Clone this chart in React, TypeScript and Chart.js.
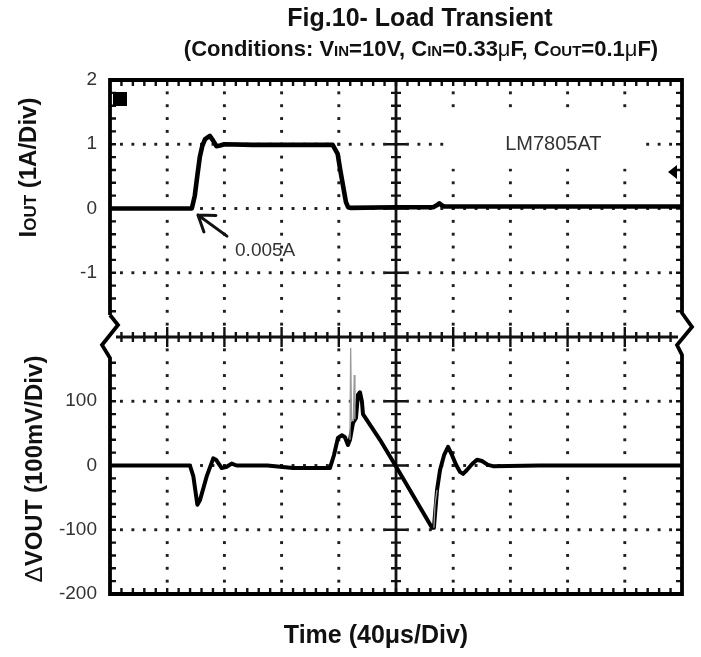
import React, { useEffect, useRef } from 'react';
import { Chart, registerables } from 'chart.js';

Chart.register(...registerables);

// ---------- text ----------
const titleLine1 = 'Fig.10- Load Transient';
const xAxisTitle = 'Time (40μs/Div)';
const modelLabel = 'LM7805AT';
const currentNote = '0.005A';

// ---------- axes ----------
const timeMin = 0;
const timeMax = 400; // µs, 10 divisions of 40 µs
const usPerDiv = 40;
const ampMin = -6;
const ampMax = 2; // 1 A / div, upper half of screen
const mvMin = -200;
const mvMax = 600; // 100 mV / div, lower half of screen
// left tick labels from bottom grid line (0) to top grid line (8)
const gridTickLabels = ['-200', '-100', '0', '100', '', '-1', '0', '1', '2'];

// ---------- IOUT trace (µs, A) ----------
const iTime = [0, 57.2, 59.3, 61, 62.8, 64.5, 66.5, 69.8, 72, 74.5, 77, 80, 100, 130, 155.7, 159.2, 161, 163, 165, 166.5, 168, 200, 226, 228.5, 230.3, 232, 234, 300, 400];
const iAmps = [0, 0, 0.2, 0.5, 0.8, 0.97, 1.08, 1.13, 1.06, 0.97, 0.98, 1.0, 0.99, 0.99, 0.99, 0.85, 0.6, 0.35, 0.1, 0.02, 0.01, 0.02, 0.02, 0.05, 0.08, 0.05, 0.03, 0.03, 0.03];

// ---------- ΔVOUT trace (µs, mV) ----------
const vTime = [0, 55.9, 58.3, 61.1, 62.9, 67.6, 72.2, 74.1, 78.1, 81.6, 85.1, 88.6, 110, 128, 153.8, 156.6, 159.4, 162.2, 164.3, 166.4, 167.8, 169.9, 172, 173.4, 174.8, 176.2, 176.9, 188.8, 197.2, 202.8, 225.2, 226.5, 228.7, 230.8, 233.6, 236.4, 239.2, 242, 244.8, 246.9, 249.6, 253.1, 256.6, 260.1, 264.3, 267.8, 300, 400];
const vMilli = [0, 0, -17, -61, -54, -17, 11, 9, -4, -2, 3, 0, 0, -4, -4, 16, 43, 47, 44, 32, 40, 66, 74, 110, 114, 99, 80, 40, 9, -12, -97, -97, -38, -7, 16, 29, 16, 1, -10, -13, -7, 2, 9, 7, 1, -1, 0, 0];

// thin, faint overshoot spike on ΔVOUT (µs, mV)
const spikeTime = [167.8, 168.3, 168.9, 170.2, 170.8, 171.3];
const spikeMilli = [40, 183, 70, 70, 141, 72];
// faint fast recovery edge (µs, mV)
const edgeTime = [226.5, 227.3, 228.7];
const edgeMilli = [-97, -60, -38];

// annotation anchors (data units)
const modelLabelAt = { t: 310, a: 1.0 };
const modelBox = { t0: 236, t1: 370, a0: 0.62, a1: 1.52 };
const noteAt = { t: 108.5, a: -0.66 };
const arrowTip = { t: 61.5, a: -0.1 };
const arrowTail = { t: 81.8, a: -0.43 };

const FAMILY = "Arial, 'Liberation Sans', Helvetica, sans-serif";

type Seg = { t: string; size: number; bold?: boolean };

function drawRich(ctx: CanvasRenderingContext2D, segs: Seg[], x: number, y: number, rotate: boolean) {
  const fontOf = (s: Seg) => `${s.bold === false ? 'normal' : 'bold'} ${s.size}px ${FAMILY}`;
  let total = 0;
  const widths = segs.map((s) => {
    ctx.font = fontOf(s);
    const w = ctx.measureText(s.t).width;
    total += w;
    return w;
  });
  ctx.save();
  ctx.translate(x, y);
  if (rotate) ctx.rotate(-Math.PI / 2);
  ctx.textAlign = 'left';
  ctx.textBaseline = 'alphabetic';
  ctx.fillStyle = '#111';
  let cx = -total / 2;
  segs.forEach((s, i) => {
    ctx.font = fontOf(s);
    ctx.fillText(s.t, cx, 0);
    cx += widths[i];
  });
  ctx.restore();
}

const scopePlugin = {
  id: 'scopeScreen',
  beforeDatasetsDraw(chart: any) {
    const { ctx, chartArea: ca, scales } = chart;
    const xs = scales.x;
    const yg = scales.y;
    const yI = scales.yI;
    const X = (k: number) => xs.getPixelForValue(k * usPerDiv);
    const Y = (j: number) => yg.getPixelForValue(j);
    ctx.save();
    // dotted graticule
    ctx.fillStyle = '#1e1e1e';
    const d = 2.9;
    for (let k = 1; k < 10; k++) {
      if (k === 5) continue;
      const x = X(k);
      for (let n = 1; n < 40; n++) {
        const y = Y(n / 5);
        ctx.fillRect(x - d / 2, y - d / 2, d, d);
      }
    }
    for (let j = 1; j < 8; j++) {
      if (j === 4) continue;
      const y = Y(j);
      for (let m = 1; m < 50; m++) {
        const x = X(m / 5);
        ctx.fillRect(x - d / 2, y - d / 2, d, d);
      }
    }
    // centre cross with minor ticks
    ctx.strokeStyle = '#111';
    ctx.lineWidth = 2.8;
    const xc = X(5);
    const yc = Y(4);
    ctx.beginPath();
    ctx.moveTo(ca.left + 6, yc);
    ctx.lineTo(ca.right - 4, yc);
    ctx.moveTo(xc, ca.top);
    ctx.lineTo(xc, ca.bottom);
    ctx.stroke();
    ctx.lineWidth = 2.4;
    ctx.beginPath();
    for (let m = 1; m < 50; m++) {
      const x = X(m / 5);
      const L = m % 5 === 0 ? 10 : 5;
      ctx.moveTo(x, yc - L);
      ctx.lineTo(x, yc + L);
    }
    for (let n = 1; n < 40; n++) {
      const y = Y(n / 5);
      const L = n % 5 === 0 ? 10 : 5;
      ctx.moveTo(xc - L, y);
      ctx.lineTo(xc + L, y);
    }
    // minor ticks along the frame
    for (let m = 1; m < 50; m++) {
      const x = X(m / 5);
      ctx.moveTo(x, ca.top);
      ctx.lineTo(x, ca.top + 6);
      ctx.moveTo(x, ca.bottom);
      ctx.lineTo(x, ca.bottom - 6);
    }
    for (let n = 1; n < 40; n++) {
      if (n >= 19 && n <= 21) continue;
      const y = Y(n / 5);
      ctx.moveTo(ca.left, y);
      ctx.lineTo(ca.left + 6, y);
      ctx.moveTo(ca.right, y);
      ctx.lineTo(ca.right - 6, y);
    }
    ctx.stroke();

    // model label with cleared background
    const bx0 = xs.getPixelForValue(modelBox.t0);
    const bx1 = xs.getPixelForValue(modelBox.t1);
    const by0 = yI.getPixelForValue(modelBox.a1);
    const by1 = yI.getPixelForValue(modelBox.a0);
    ctx.fillStyle = '#fff';
    ctx.fillRect(bx0, by0, bx1 - bx0, by1 - by0);
    ctx.fillStyle = '#333';
    ctx.font = `normal 20px ${FAMILY}`;
    ctx.textAlign = 'center';
    ctx.textBaseline = 'middle';
    ctx.fillText(modelLabel, xs.getPixelForValue(modelLabelAt.t), yI.getPixelForValue(modelLabelAt.a));

    // 0.005A note + arrow
    ctx.font = `normal 19px ${FAMILY}`;
    ctx.fillText(currentNote, xs.getPixelForValue(noteAt.t), yI.getPixelForValue(noteAt.a));
    const tx = xs.getPixelForValue(arrowTip.t);
    const ty = yI.getPixelForValue(arrowTip.a);
    const sx = xs.getPixelForValue(arrowTail.t);
    const sy = yI.getPixelForValue(arrowTail.a);
    const ang = Math.atan2(sy - ty, sx - tx);
    const arm = 18;
    const spread = 0.6;
    ctx.strokeStyle = '#111';
    ctx.lineWidth = 3;
    ctx.lineCap = 'round';
    ctx.lineJoin = 'round';
    ctx.beginPath();
    ctx.moveTo(sx, sy);
    ctx.lineTo(tx, ty);
    ctx.moveTo(tx + arm * Math.cos(ang - spread), ty + arm * Math.sin(ang - spread));
    ctx.lineTo(tx, ty);
    ctx.lineTo(tx + arm * Math.cos(ang + spread), ty + arm * Math.sin(ang + spread));
    ctx.stroke();
    ctx.restore();
  },
  afterDatasetsDraw(chart: any) {
    const { ctx, chartArea: ca, scales } = chart;
    const yc = scales.y.getPixelForValue(4);
    ctx.save();
    ctx.strokeStyle = '#000';
    ctx.lineWidth = 3.8;
    ctx.lineJoin = 'miter';
    ctx.lineCap = 'butt';
    // frame with break marks on both sides
    ctx.beginPath();
    ctx.moveTo(ca.left, yc - 22);
    ctx.lineTo(ca.left, ca.top);
    ctx.lineTo(ca.right, ca.top);
    ctx.lineTo(ca.right, yc - 24);
    ctx.lineTo(ca.right + 10, yc - 10);
    ctx.lineTo(ca.right - 5, yc + 8);
    ctx.lineTo(ca.right, yc + 18);
    ctx.lineTo(ca.right, ca.bottom);
    ctx.lineTo(ca.left, ca.bottom);
    ctx.lineTo(ca.left, yc + 21);
    ctx.lineTo(ca.left - 8, yc + 8);
    ctx.lineTo(ca.left + 8, yc - 12);
    ctx.lineTo(ca.left, yc - 22);
    ctx.stroke();
    // channel marker and trigger marker
    ctx.fillStyle = '#000';
    ctx.fillRect(ca.left + 3, ca.top + 12, 14, 14);
    const ty = scales.yI.getPixelForValue(0.57);
    ctx.beginPath();
    ctx.moveTo(ca.right - 14, ty);
    ctx.lineTo(ca.right - 5, ty - 7);
    ctx.lineTo(ca.right - 5, ty + 7);
    ctx.closePath();
    ctx.fill();
    ctx.restore();
  },
  afterDraw(chart: any) {
    const { ctx } = chart;
    drawRich(ctx, [{ t: titleLine1, size: 25 }], 420, 26, false);
    drawRich(
      ctx,
      [
        { t: '(Conditions: V', size: 22 },
        { t: 'IN', size: 15 },
        { t: '=10V, C', size: 22 },
        { t: 'IN', size: 15 },
        { t: '=0.33', size: 22 },
        { t: 'μ', size: 22, bold: false },
        { t: 'F, C', size: 22 },
        { t: 'OUT', size: 15 },
        { t: '=0.1', size: 22 },
        { t: 'μ', size: 22, bold: false },
        { t: 'F)', size: 22 },
      ],
      421,
      56,
      false
    );
    drawRich(ctx, [{ t: xAxisTitle, size: 25 }], 376, 643, false);
    drawRich(
      ctx,
      [
        { t: 'I', size: 24 },
        { t: 'OUT', size: 17 },
        { t: ' (1A/Div)', size: 24 },
      ],
      36,
      167.5,
      true
    );
    drawRich(
      ctx,
      [
        { t: 'Δ', size: 24, bold: false },
        { t: 'VOUT', size: 24 },
        { t: ' (100mV/Div)', size: 24 },
      ],
      42,
      469,
      true
    );
  },
};

export default function App() {
  const ref = useRef<HTMLCanvasElement | null>(null);
  useEffect(() => {
    if (!ref.current) return;
    const toXY = (xs: number[], ys: number[]) => xs.map((x, i) => ({ x, y: ys[i] }));
    const chart = new Chart(ref.current, {
      type: 'line',
      data: {
        datasets: [
          {
            label: 'IOUT',
            data: toXY(iTime, iAmps),
            yAxisID: 'yI',
            borderColor: '#000',
            borderWidth: 4.6,
            pointRadius: 0,
            tension: 0,
            borderJoinStyle: 'round',
            borderCapStyle: 'round',
          },
          {
            label: 'ΔVOUT spike',
            data: toXY(spikeTime, spikeMilli),
            yAxisID: 'yV',
            borderColor: '#9a9a9a',
            borderWidth: 1.3,
            pointRadius: 0,
            tension: 0,
          },
          {
            label: 'ΔVOUT edge',
            data: toXY(edgeTime, edgeMilli),
            yAxisID: 'yV',
            borderColor: '#9a9a9a',
            borderWidth: 1.3,
            pointRadius: 0,
            tension: 0,
          },
          {
            label: 'ΔVOUT',
            data: toXY(vTime, vMilli),
            yAxisID: 'yV',
            borderColor: '#000',
            borderWidth: 4,
            pointRadius: 0,
            tension: 0,
            borderJoinStyle: 'round',
            borderCapStyle: 'round',
          },
        ],
      },
      options: {
        animation: false,
        responsive: false,
        maintainAspectRatio: false,
        layout: { padding: { left: 50, right: 19, top: 80, bottom: 63 } },
        plugins: { legend: { display: false }, tooltip: { enabled: false }, title: { display: false } },
        scales: {
          x: { type: 'linear', min: timeMin, max: timeMax, display: false },
          y: {
            type: 'linear',
            position: 'left',
            min: 0,
            max: 8,
            afterFit: (s: any) => {
              s.width = 60;
            },
            ticks: {
              stepSize: 1,
              autoSkip: false,
              padding: 13,
              color: '#333',
              font: { family: FAMILY, size: 19 },
              callback: (v: any) => gridTickLabels[Math.round(Number(v))] ?? '',
            },
            grid: { display: false, drawTicks: false },
            border: { display: false },
          },
          yI: { type: 'linear', position: 'left', min: ampMin, max: ampMax, display: false },
          yV: { type: 'linear', position: 'left', min: mvMin, max: mvMax, display: false },
        },
      },
      plugins: [scopePlugin],
    } as any);
    return () => chart.destroy();
  }, []);
  return (
    <div style={{ position: 'fixed', left: 0, top: 0, width: 701, height: 657, background: '#fff' }}>
      <canvas ref={ref} width={701} height={657} style={{ display: 'block' }} />
    </div>
  );
}
